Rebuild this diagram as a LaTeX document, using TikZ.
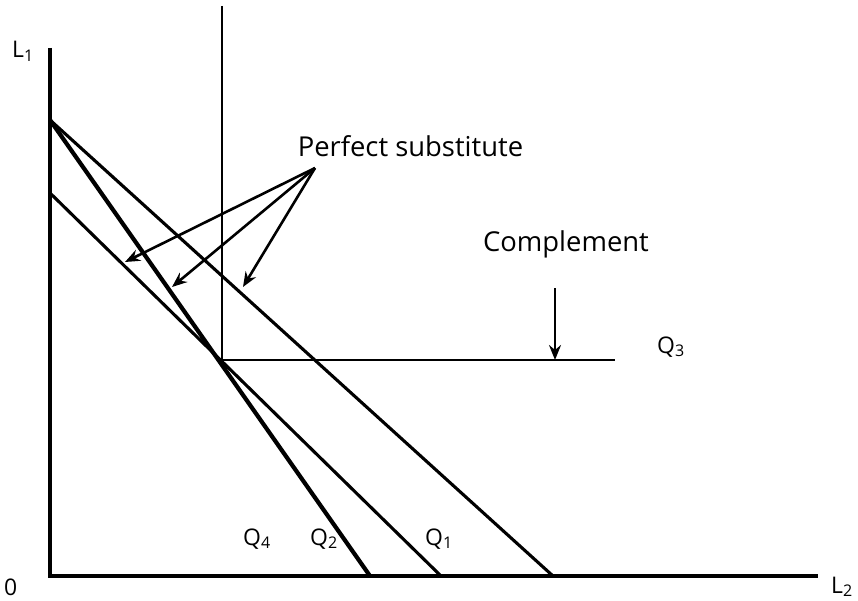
\documentclass[tikz,border=0pt]{standalone}
\usepackage{fontspec}
\setmainfont{Open Sans}
\usetikzlibrary{arrows.meta}
\begin{document}
\begin{tikzpicture}[x=1bp,y=-1bp,
  axis/.style={line width=4.5bp},
  thickq/.style={line width=4.2bp},
  qline/.style={line width=3.1bp},
  thinq/.style={line width=2.0bp},
  pointer/.style={line width=2.6bp,-{Stealth[length=15bp,width=12bp,inset=5bp]}},
  lbl/.style={inner sep=0pt,anchor=base,font=\fontsize{27.5}{30}\selectfont},
  sym/.style={inner sep=0pt,anchor=base west,font=\fontsize{23}{26}\selectfont}]
\useasboundingbox (0,0) rectangle (858,601);
\coordinate (O) at (50,576);
\coordinate (Ytop) at (50,48);
\coordinate (Xend) at (818,576);
\draw[axis] (Ytop) -- (O) -- (Xend);
\node[sym] (l1) at (12,58) {L\textsubscript{1}};
\node[sym] (l2) at (831,593) {L\textsubscript{2}};
\node[sym] (zero) at (4,595) {0};
% isoquant lines
\coordinate (A) at (50,120);
\coordinate (B) at (50,193);
\coordinate (q4end) at (370,576);
\coordinate (q2end) at (441,576);
\coordinate (q1end) at (553,576);
\draw[thickq] (A) -- (q4end);
\draw[qline] (B) -- (q2end);
\draw[qline] (A) -- (q1end);
% complement
\coordinate (K) at (222,360);
\coordinate (Ktop) at (222,6);
\coordinate (Kend) at (615,360);
\draw[thinq] (Ktop) -- (K) -- (Kend);
\node[sym] (q3) at (657,353) {Q\textsubscript{3}};
\node[sym] (q4) at (243,545) {Q\textsubscript{4}};
\node[sym] (q2) at (310,545) {Q\textsubscript{2}};
\node[sym] (q1) at (425,545) {Q\textsubscript{1}};
% labels and pointers
\node[lbl] (ps) at (410.5,157) {Perfect substitute};
\coordinate (src) at (315,168);
\coordinate (t1) at (125,262);
\coordinate (t2) at (172,287);
\coordinate (t3) at (243,287);
\draw[pointer] (src) -- (t1);
\draw[pointer] (src) -- (t2);
\draw[pointer] (src) -- (t3);
\node[lbl] (comp) at (566,252) {Complement};
\coordinate (cs) at (555,288);
\coordinate (ce) at (555,360);
\draw[pointer] (cs) -- (ce);
\end{tikzpicture}
\end{document}
